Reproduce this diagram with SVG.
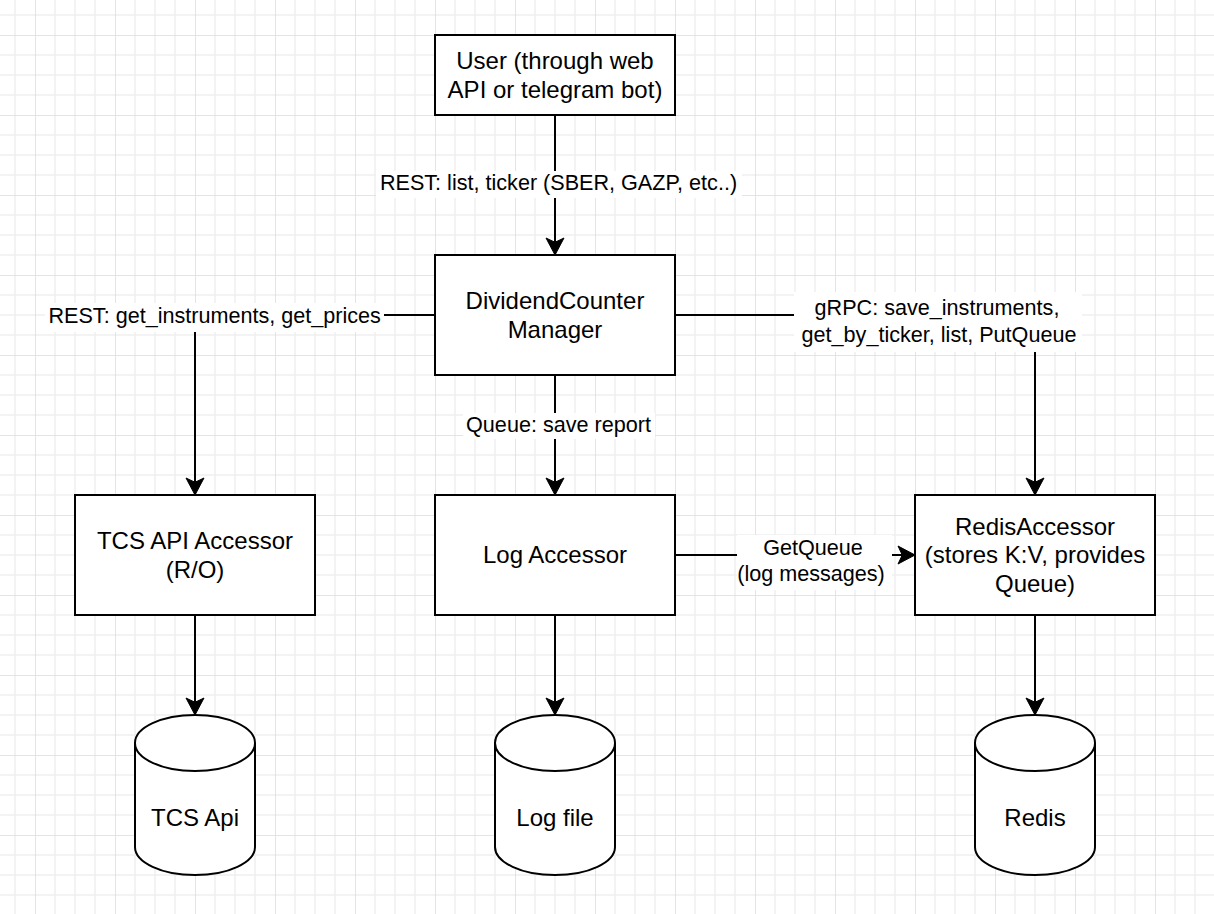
<svg xmlns="http://www.w3.org/2000/svg" width="1214" height="914" viewBox="0 0 1214 914">
<style>
.box{fill:#fff;stroke:#000;stroke-width:2}
.cyl{fill:#fff;stroke:#000;stroke-width:2}
.edge{fill:none;stroke:#000;stroke-width:2}
.t{font-family:"Liberation Sans",Arial,Helvetica,sans-serif;font-size:24px;fill:#000;text-anchor:middle}
.el{font-family:"Liberation Sans",Arial,Helvetica,sans-serif;font-size:21.6px;fill:#000;text-anchor:middle}
.lbg{fill:#fff}
</style>
<defs>
<pattern id="grid" x="35" y="35" width="80" height="80" patternUnits="userSpaceOnUse">
<path d="M20,0V80M40,0V80M60,0V80M0,20H80M0,40H80M0,60H80" stroke="#f0f0f0" stroke-width="1.5" fill="none"/>
<path d="M0,0V80M0,0H80" stroke="#dcdcdc" stroke-width="1.5" fill="none"/>
</pattern>
<marker id="arr" viewBox="-18 -10 19 20" refX="0" refY="0" markerWidth="19" markerHeight="20" markerUnits="userSpaceOnUse" orient="auto">
<path d="M0,0 L-17,-9 L-12.75,0 L-17,9 Z" fill="#000" stroke="#000" stroke-width="1"/>
</marker>
</defs>
<rect x="0" y="0" width="1214" height="914" fill="#fff"/>
<rect x="0" y="0" width="1214" height="914" fill="url(#grid)"/>

<g id="connectors">
<path class="edge" d="M555,115 L555,255" marker-end="url(#arr)"/>
<path class="edge" d="M435,315 L195,315 L195,495" marker-end="url(#arr)"/>
<path class="edge" d="M675,315 L1035,315 L1035,495" marker-end="url(#arr)"/>
<path class="edge" d="M555,375 L555,495" marker-end="url(#arr)"/>
<path class="edge" d="M675,555 L915,555" marker-end="url(#arr)"/>
<path class="edge" d="M195,615 L195,715" marker-end="url(#arr)"/>
<path class="edge" d="M555,615 L555,715" marker-end="url(#arr)"/>
<path class="edge" d="M1035,615 L1035,715" marker-end="url(#arr)"/>
<g id="edge-labels">
<rect class="lbg" x="376" y="171" width="366" height="27"/>
<text class="el" x="558.5" y="190">REST: list, ticker (SBER, GAZP, etc..)</text>
<rect class="lbg" x="45" y="303" width="339" height="29"/>
<text class="el" x="214.7" y="323">REST: get_instruments, get_prices</text>
<rect class="lbg" x="794" y="292" width="288" height="60"/>
<text class="el" x="937" y="314.5">gRPC: save_instruments,</text>
<text class="el" x="939" y="341.5">get_by_ticker, list, PutQueue</text>
<rect class="lbg" x="463" y="413" width="192" height="26"/>
<text class="el" x="558.5" y="432">Queue: save report</text>
<rect class="lbg" x="737" y="535" width="155" height="55"/>
<text class="el" x="813" y="555">GetQueue</text>
<text class="el" x="811" y="581">(log messages)</text>
</g>
</g>

<g id="user">
<rect class="box" x="435" y="35" width="240" height="80"/>
<text class="t" x="555" y="69">User (through web</text>
<text class="t" x="555" y="97.7">API or telegram bot)</text>
</g>
<g id="manager">
<rect class="box" x="435" y="255" width="240" height="120"/>
<text class="t" x="555" y="309">DividendCounter</text>
<text class="t" x="555" y="337.7">Manager</text>
</g>
<g id="tcs-accessor">
<rect class="box" x="75" y="495" width="240" height="120"/>
<text class="t" x="195" y="549">TCS API Accessor</text>
<text class="t" x="195" y="577.7">(R/O)</text>
</g>
<g id="log-accessor">
<rect class="box" x="435" y="495" width="240" height="120"/>
<text class="t" x="555" y="563.3">Log Accessor</text>
</g>
<g id="redis-accessor">
<rect class="box" x="915" y="495" width="240" height="120"/>
<text class="t" x="1035" y="534.5">RedisAccessor</text>
<text class="t" x="1035" y="563.3">(stores K:V, provides</text>
<text class="t" x="1035" y="592.1">Queue)</text>
</g>
<g id="tcs-api">
<path class="cyl" d="M135,743 A60,28 0 0 1 255,743 L255,847 A60,28 0 0 1 135,847 Z"/>
<path class="cyl" d="M135,743 A60,28 0 0 0 255,743" fill="none"/>
<text class="t" x="195" y="826">TCS Api</text>
</g>
<g id="log-file">
<path class="cyl" d="M495,743 A60,28 0 0 1 615,743 L615,847 A60,28 0 0 1 495,847 Z"/>
<path class="cyl" d="M495,743 A60,28 0 0 0 615,743" fill="none"/>
<text class="t" x="555" y="826">Log file</text>
</g>
<g id="redis">
<path class="cyl" d="M975,743 A60,28 0 0 1 1095,743 L1095,847 A60,28 0 0 1 975,847 Z"/>
<path class="cyl" d="M975,743 A60,28 0 0 0 1095,743" fill="none"/>
<text class="t" x="1035" y="826">Redis</text>
</g>
</svg>
